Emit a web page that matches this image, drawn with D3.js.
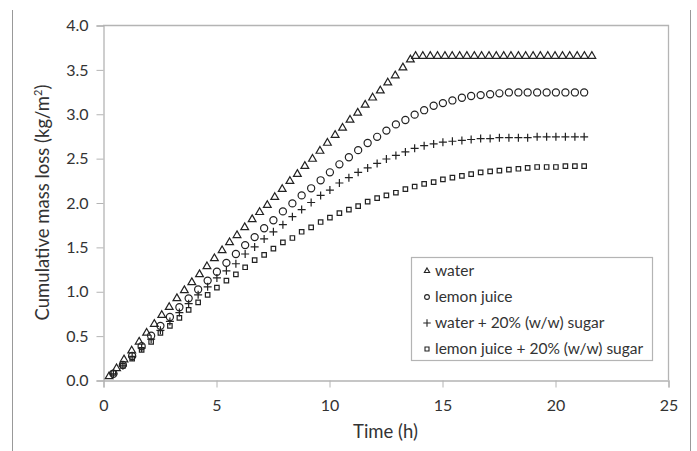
<!DOCTYPE html>
<html>
<head>
<meta charset="utf-8">
<script src="https://cdn.jsdelivr.net/npm/d3@7"></script>
<style>
  html, body { margin: 0; padding: 0; background: #fff; }
  svg { display: block; font-family: Lato, "Noto Sans", sans-serif; }
</style>
</head>
<body>
<svg id="chart"></svg>
<script>
// time stamps (h)
const timesWater = [0.27, 0.60, 0.93, 1.27, 1.60, 1.93, 2.27, 2.60, 2.93, 3.27, 3.60, 3.93, 4.27, 4.60,
  4.93, 5.27, 5.60, 5.93, 6.27, 6.60, 6.93, 7.27, 7.60, 7.93, 8.27, 8.60, 8.93, 9.27, 9.60, 9.93,
  10.27, 10.60, 10.93, 11.27, 11.60, 11.93, 12.27, 12.60, 12.93, 13.27, 13.60,
  13.83, 14.15, 14.48, 14.80, 15.13, 15.45, 15.78, 16.10, 16.43, 16.75, 17.08, 17.40, 17.73,
  18.05, 18.38, 18.70, 19.03, 19.35, 19.68, 20.00, 20.33, 20.65, 20.98, 21.30, 21.63];
const timesOthers = [0.46, 0.88, 1.29, 1.71, 2.13, 2.54, 2.96, 3.38, 3.79, 4.21, 4.63, 5.04, 5.46,
  5.88, 6.29, 6.71, 7.13, 7.54, 7.96, 8.38, 8.79, 9.21, 9.63, 10.04, 10.46, 10.88, 11.29, 11.71,
  12.13, 12.54, 12.96, 13.38, 13.79, 14.21, 14.63, 15.04, 15.46, 15.88, 16.29, 16.71, 17.13,
  17.54, 17.96, 18.38, 18.79, 19.21, 19.63, 20.04, 20.46, 20.88, 21.29];

// cumulative mass loss (kg/m2)
const water = [0.04, 0.13, 0.23, 0.33, 0.43, 0.53, 0.63, 0.73, 0.82, 0.92, 1.01, 1.10, 1.19, 1.28,
  1.37, 1.46, 1.55, 1.63, 1.72, 1.81, 1.89, 1.97, 2.06, 2.15, 2.24, 2.32, 2.41, 2.49, 2.58, 2.67,
  2.76, 2.84, 2.93, 3.01, 3.10, 3.18, 3.26, 3.35, 3.43, 3.52, 3.61,
  3.65, 3.65, 3.65, 3.65, 3.65, 3.65, 3.65, 3.65, 3.65, 3.65, 3.65, 3.65, 3.65,
  3.65, 3.65, 3.65, 3.65, 3.65, 3.65, 3.65, 3.65, 3.65, 3.65, 3.65, 3.65];
const lemonJuice = [0.07, 0.17, 0.27, 0.38, 0.50, 0.61, 0.71, 0.82, 0.92, 1.02, 1.12, 1.22, 1.32,
  1.42, 1.52, 1.61, 1.71, 1.80, 1.90, 1.99, 2.08, 2.16, 2.25, 2.34, 2.43, 2.51, 2.59, 2.67,
  2.74, 2.81, 2.88, 2.93, 2.99, 3.04, 3.09, 3.12, 3.15, 3.18, 3.20, 3.21, 3.22,
  3.23, 3.24, 3.24, 3.24, 3.24, 3.24, 3.24, 3.24, 3.24, 3.24];
const waterSugar = [0.07, 0.16, 0.26, 0.36, 0.46, 0.56, 0.66, 0.76, 0.86, 0.96, 1.05, 1.15, 1.23,
  1.31, 1.42, 1.50, 1.59, 1.67, 1.75, 1.84, 1.92, 2.00, 2.08, 2.14, 2.22, 2.28, 2.34, 2.39,
  2.44, 2.49, 2.53, 2.57, 2.61, 2.64, 2.66, 2.68, 2.69, 2.70, 2.71, 2.72, 2.72,
  2.73, 2.73, 2.73, 2.73, 2.74, 2.74, 2.74, 2.74, 2.74, 2.74];
const lemonSugar = [0.08, 0.16, 0.24, 0.34, 0.43, 0.53, 0.61, 0.70, 0.79, 0.875, 0.96, 1.04, 1.12,
  1.19, 1.27, 1.35, 1.41, 1.48, 1.55, 1.60, 1.67, 1.72, 1.78, 1.83, 1.88, 1.92, 1.96, 2.01,
  2.05, 2.08, 2.11, 2.15, 2.18, 2.21, 2.23, 2.26, 2.28, 2.30, 2.32, 2.34, 2.35,
  2.36, 2.37, 2.38, 2.39, 2.40, 2.40, 2.40, 2.41, 2.41, 2.41];

const seriesNames = ["water", "lemon juice", "water + 20% (w/w) sugar", "lemon juice + 20% (w/w) sugar"];
const xTicks = [0, 5, 10, 15, 20, 25];
const yTicks = [0, 0.5, 1, 1.5, 2, 2.5, 3, 3.5, 4];

const W = 697, H = 451;
const plot = { left: 103, right: 668, top: 25, bottom: 380 };
const axisColor = "#b4b4b4", textColor = "#333", markColor = "#222";

const svg = d3.select("#chart").attr("width", W).attr("height", H);

// outer frame sides
svg.append("line").attr("x1", 12.5).attr("x2", 12.5).attr("y1", 10).attr("y2", H)
  .attr("stroke", "#999").attr("stroke-width", 1);
svg.append("line").attr("x1", 690.5).attr("x2", 690.5).attr("y1", 10).attr("y2", H)
  .attr("stroke", "#999").attr("stroke-width", 1);

const x = d3.scaleLinear().domain([0, 25]).range([plot.left, plot.right]);
const y = d3.scaleLinear().domain([0, 4]).range([plot.bottom, plot.top]);

// plot border (top + right)
svg.append("path")
  .attr("d", `M${plot.left},${plot.top + 0.5}H${plot.right + 0.5}V${plot.bottom}`)
  .attr("fill", "none").attr("stroke", axisColor).attr("stroke-width", 1.3);

// x axis
const gx = svg.append("g").attr("transform", `translate(0.5,${plot.bottom + 0.5})`);
gx.call(d3.axisBottom(x).tickValues(d3.range(0, 26, 1)).tickSize(4).tickFormat(""));
gx.call(d3.axisBottom(x).tickValues(xTicks).tickSize(7).tickFormat(d3.format("d")));
gx.selectAll(".domain").attr("stroke", axisColor).attr("stroke-width", 1.3);
gx.selectAll(".tick line").attr("stroke", axisColor);
gx.selectAll(".tick text").attr("fill", textColor).attr("font-size", 16)
  .attr("font-family", "Lato, sans-serif").attr("dy", "0.71em").attr("y", 19);

// y axis
const gy = svg.append("g").attr("transform", `translate(${plot.left + 0.5},0.5)`);
gy.call(d3.axisLeft(y).tickValues(d3.range(0, 41, 1).map(d => d / 10)).tickSize(4).tickFormat(""));
gy.call(d3.axisLeft(y).tickValues(yTicks).tickSize(7).tickFormat(d3.format(".1f")));
gy.selectAll(".domain").attr("stroke", axisColor).attr("stroke-width", 1.3);
gy.selectAll(".tick line").attr("stroke", axisColor);
gy.selectAll(".tick text").attr("fill", textColor).attr("font-size", 16)
  .attr("font-family", "Lato, sans-serif").attr("x", -15);

// axis titles
svg.append("text").attr("x", (plot.left + plot.right) / 2).attr("y", 438)
  .attr("text-anchor", "middle").attr("font-size", 18.5).attr("fill", textColor)
  .text("Time (h)");
const yt = svg.append("text")
  .attr("transform", `translate(49,${(plot.top + plot.bottom) / 2}) rotate(-90)`)
  .attr("text-anchor", "middle").attr("font-size", 18.5).attr("fill", textColor);
yt.append("tspan").text("Cumulative mass loss (kg/m");
yt.append("tspan").attr("font-size", 11).attr("dy", -7).text("2");
yt.append("tspan").attr("dy", 7).text(")");

// plus shape drawn with strokes
const plusType = {
  draw(ctx, size) {
    const r = Math.sqrt(size) / 2;
    ctx.moveTo(-r, 0); ctx.lineTo(r, 0);
    ctx.moveTo(0, -r); ctx.lineTo(0, r);
  }
};

const series = [
  { name: seriesNames[0], t: timesWater, v: water, type: d3.symbolTriangle, size: 26, legendSize: 12 },
  { name: seriesNames[1], t: timesOthers, v: lemonJuice, type: d3.symbolCircle, size: 40, legendSize: 18 },
  { name: seriesNames[2], t: timesOthers, v: waterSugar, type: plusType, size: 64, legendSize: 56 },
  { name: seriesNames[3], t: timesOthers, v: lemonSugar, type: d3.symbolSquare, size: 20, legendSize: 16 }
];

series.forEach(s => {
  const pts = s.t.map((t, i) => ({ t, v: s.v[i] }));
  svg.append("g").selectAll("path")
    .data(pts)
    .enter()
    .append("path")
    .attr("transform", d => `translate(${x(d.t)},${y(d.v)})`)
    .attr("d", d3.symbol().type(s.type).size(s.size))
    .attr("fill", "none")
    .attr("stroke", markColor)
    .attr("stroke-width", 1.2);
});

// legend
const lg = svg.append("g").attr("transform", "translate(411,257)");
lg.append("rect").attr("x", 0.5).attr("y", 0.5).attr("width", 241).attr("height", 103)
  .attr("fill", "#fff").attr("stroke", axisColor).attr("stroke-width", 1.2);
series.forEach((s, i) => {
  const row = lg.append("g").attr("transform", `translate(0,${14 + i * 26})`);
  row.append("path").attr("transform", "translate(16,0)")
    .attr("d", d3.symbol().type(s.type).size(s.legendSize))
    .attr("fill", "none").attr("stroke", markColor).attr("stroke-width", 1.1);
  row.append("text").attr("x", 24).attr("dy", "0.35em")
    .attr("font-size", 15.5).attr("fill", textColor).text(s.name);
});
</script>
</body>
</html>
